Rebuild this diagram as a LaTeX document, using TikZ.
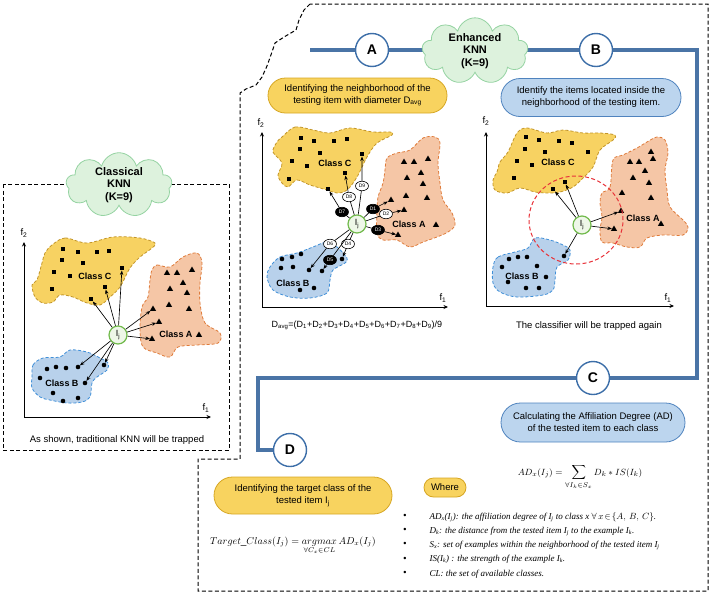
\documentclass[tikz,border=0pt]{standalone}
\usepackage{fontspec}
\setmainfont{Liberation Sans}
\newfontfamily\tnr{Liberation Serif}
\usetikzlibrary{shapes.symbols,shapes.geometric,shapes.misc,arrows.meta}
\definecolor{flowblue}{HTML}{4A74A6}
\definecolor{circblue}{HTML}{3C6EA8}
\definecolor{yfill}{HTML}{F8D35F}
\definecolor{ydraw}{HTML}{D6A623}
\definecolor{bfill}{HTML}{BCD5EE}
\definecolor{bdraw}{HTML}{4F83BE}
\definecolor{cloudfill}{HTML}{DDF2DD}
\definecolor{clouddraw}{HTML}{95D3A2}
\definecolor{cfill}{HTML}{F7D262}
\definecolor{cdraw}{HTML}{C2952A}
\definecolor{afill}{HTML}{F5C6A6}
\definecolor{adraw}{HTML}{DF7B3A}
\definecolor{bbfill}{HTML}{B8D1EB}
\definecolor{bbdraw}{HTML}{3F8FD8}
\definecolor{ijfill}{HTML}{EEF7E8}
\definecolor{ijdraw}{HTML}{72BA4D}
\definecolor{redc}{HTML}{E8333A}
\begin{document}
\begin{tikzpicture}[x=1pt,y=-1pt,
  frame/.style={draw=black,line width=1pt,dash pattern=on 4pt off 2.5pt},
  flow/.style={draw=flowblue,line width=4.5pt},
  letter/.style={circle,draw=circblue,line width=1.4pt,fill=white,minimum size=33pt,inner sep=0,font=\fontsize{14}{14}\selectfont\bfseries},
  ybox/.style={rounded rectangle,draw=ydraw,fill=yfill,line width=0.8pt,align=center,inner sep=0,font=\fontsize{9.5}{12}\selectfont},
  bbox/.style={rounded rectangle,draw=bdraw,fill=bfill,line width=0.8pt,align=center,inner sep=0,font=\fontsize{9.5}{12}\selectfont},
  cloudnode/.style={cloud,cloud puffs=9,cloud ignores aspect,draw=clouddraw,fill=cloudfill,line width=0.8pt,minimum width=106pt,minimum height=60pt,align=center,inner sep=0,font=\fontsize{11}{12.5}\selectfont\bfseries},
  cblob/.style={fill=cfill,draw=cdraw,line width=0.8pt,dash pattern=on 3pt off 2pt},
  ablob/.style={fill=afill,draw=adraw,line width=0.8pt,dash pattern=on 3pt off 2pt},
  bblob/.style={fill=bbfill,draw=bbdraw,line width=0.8pt,dash pattern=on 3pt off 2pt},
  sq/.style={rectangle,fill=black,minimum size=4.6pt,inner sep=0},
  tri/.style={regular polygon,regular polygon sides=3,fill=black,minimum size=7pt,inner sep=0},
  dot/.style={circle,fill=black,minimum size=4.6pt,inner sep=0},
  ij/.style={circle,draw=ijdraw,fill=ijfill,line width=1.2pt,minimum size=18pt,inner sep=0,font=\fontsize{9}{9}\selectfont},
  arr/.style={-{Stealth[length=4.5pt,width=3.5pt]},line width=0.65pt},
  axis/.style={-{Stealth[length=4.5pt,width=4pt]},line width=1pt},
  dw/.style={ellipse,draw=black,fill=white,line width=0.6pt,minimum width=13pt,minimum height=9.5pt,inner sep=0,font=\fontsize{5}{5}\selectfont},
  db/.style={dw,fill=black,text=white},
  lbl/.style={font=\fontsize{9}{9}\selectfont\bfseries},
  txt/.style={font=\fontsize{9.5}{11}\selectfont},
  ax/.style={font=\fontsize{9.5}{9.5}\selectfont},
  bul/.style={anchor=base west,font=\fontsize{9}{9}\selectfont\tnr\itshape}
]
\useasboundingbox (0,0) rectangle (713,595);

% ---------- frames ----------
\draw[frame] (3,184) rectangle (229,450);
\draw[frame] (310,4) -- (304,10) -- (299,20) -- (296,30) -- (284,37) -- (275,43) -- (272,52) -- (267,66) -- (262,77) -- (256,85) -- (246,89) -- (240,93) -- (240,459) -- (198,459) -- (198,591) -- (708,591) -- (708,4) -- cycle;

% ---------- blue flow ----------
\coordinate (fs) at (310,50);
\coordinate (k1) at (697,50);
\coordinate (k2) at (697,378);
\coordinate (k3) at (258,378);
\coordinate (k4) at (258,450);
\coordinate (dpos) at (290,450);
\draw[flow] (fs) -- (k1) -- (k2) -- (k3) -- (k4) -- (dpos);
\node[letter] (A) at (372,50) {A};
\node[letter] (B) at (596,50) {B};
\node[letter] (C) at (593,378) {C};
\node[letter] (D) at (dpos) {D};
\node[cloudnode] (enh) at (475,51) {Enhanced\\KNN\\(K=9)};
\node[cloudnode] (cls) at (119,185) {Classical\\KNN\\(K=9)};

% ---------- text boxes ----------
\node[ybox,minimum width=179pt,minimum height=35pt] (boxA) at (357.5,95.5) {Identifying the neighborhood of the\\testing item with diameter D\textsubscript{avg}};
\node[bbox,minimum width=180pt,minimum height=38pt] (boxB) at (591,97.5) {Identify the items located inside the\\neighborhood of the testing item.};
\node[bbox,minimum width=184pt,minimum height=39pt] (boxC) at (593,422.5) {Calculating the Affiliation Degree (AD)\\of the tested item to each class};
\node[ybox,minimum width=178pt,minimum height=37pt] (boxD) at (303,495.5) {Identifying the target class of the\\tested item I\textsubscript{j}};
\node[ybox,minimum width=42pt,minimum height=19pt] (where) at (445,487.5) {Where};

% ================= LEFT PANEL =================
\draw[cblob] plot[smooth cycle,tension=0.55] coordinates {(52,245) (65,238) (87,243) (113,237) (140,238) (155,243) (152,248) (140,257) (130,268) (120,287) (110,297) (100,305) (87,303) (73,297) (60,295) (53,302) (43,303) (35,297) (32,285) (37,280) (42,263) (45,253)};
\draw[ablob] plot[smooth cycle,tension=0.55] coordinates {(152,270) (157,265) (170,267) (183,257) (197,253) (202,263) (200,283) (200,303) (205,323) (220,333) (218,343) (197,345) (178,347) (170,357) (157,353) (143,347) (140,330) (142,307) (148,297) (150,280)};
\draw[bblob] plot[smooth cycle,tension=0.55] coordinates {(32,377) (33,365) (43,358) (60,357) (70,350) (87,352) (100,358) (108,363) (107,370) (97,377) (92,383) (90,397) (82,402) (67,403) (50,400) (40,397) (32,388)};
\foreach \p [count=\i] in {(63,249),(78,252),(97,252),(109,251),(62,260),(83,263),(54,272),(70,276),(52,289)} \node[sq] (lcs\i) at \p {};
\foreach \p [count=\i] in {(167,273),(177,273),(192,270),(183,283),(170,289),(187,293),(169,305),(189,309),(199,335)} \node[tri] (lat\i) at \p {};
\foreach \p [count=\i] in {(47,369),(56,367),(66,368),(40,378),(53,393),(63,401),(78,398)} \node[dot] (lbd\i) at \p {};
\node[sq] (LC1) at (122,268) {};
\node[sq] (LC2) at (105,287) {};
\node[sq] (LC3) at (91,299) {};
\node[tri] (LA1) at (153,309) {};
\node[tri] (LA2) at (159,322) {};
\node[tri] (LA3) at (152,339) {};
\node[dot] (LB1) at (78,367) {};
\node[dot] (LB2) at (85,383) {};
\node[dot] (LB3) at (104,365) {};
\node[lbl] (lclC) at (95,276) {Class C};
\node[lbl] (lclA) at (176,334) {Class A};
\node[lbl] (lclB) at (62,383) {Class B};
\node[ij] (IL) at (118,335) {I\textsubscript{j}};
\foreach \t in {LC1,LC2,LC3,LA1,LA2,LA3,LB1,LB2,LB3} \draw[arr] (IL) -- (\t);
\coordinate (lo) at (24,417);
\coordinate (ly) at (24,242);
\coordinate (lx) at (211,417);
\draw[axis] (lo) -- (ly);
\draw[axis] (lo) -- (lx);
\node[ax] (lf2) at (24,233) {f\textsubscript{2}};
\node[ax] (lf1) at (206,408) {f\textsubscript{1}};
\node[txt] (capL) at (117,440) {As shown, traditional KNN will be trapped};

% ================= PANEL A =================
\draw[cblob] plot[smooth cycle,tension=0.55] coordinates {(282,137) (295,127) (313,130) (330,133) (350,128) (373,132) (390,132) (392,135) (377,143) (367,157) (357,177) (347,190) (337,193) (327,190) (310,185) (297,180) (288,187) (282,183) (278,175) (282,163) (273,152) (277,142)};
\draw[ablob] plot[smooth cycle,tension=0.55] coordinates {(387,158) (397,153) (410,150) (423,138) (435,137) (440,143) (438,163) (440,183) (443,200) (452,213) (455,225) (448,232) (437,237) (423,242) (410,247) (397,240) (383,240) (377,233) (377,210) (378,197) (383,183) (385,170)};
\draw[bblob] plot[smooth cycle,tension=0.55] coordinates {(270,267) (280,257) (297,253) (313,247) (327,242) (337,247) (347,258) (345,263) (333,270) (330,280) (327,293) (310,298) (290,297) (273,290) (267,277)};
\foreach \p [count=\i] in {(301,138),(314,141),(334,141),(347,139),(300,149),(320,153),(292,161),(307,166),(289,179)} \node[sq] (acs\i) at \p {};
\foreach \p [count=\i] in {(404,162),(414,162),(428,159),(421,173),(407,178),(423,184),(406,196),(427,198),(436,225)} \node[tri] (aat\i) at \p {};
\foreach \p [count=\i] in {(282,259),(292,257),(301,254),(293,267),(281,268),(300,290),(314,288)} \node[dot] (abd\i) at \p {};
\node[sq] (T9) at (362,154) {};
\node[sq] (T8) at (345,173) {};
\node[sq] (T7) at (328,189) {};
\node[tri] (T1) at (391,200) {};
\node[tri] (T2) at (404,210) {};
\node[tri] (T3) at (398,235) {};
\node[dot] (T4) at (342,259) {};
\node[dot] (T5) at (322,271) {};
\node[dot] (T6) at (309,270) {};
\node[lbl] (aclC) at (335,163) {Class C};
\node[lbl] (aclA) at (409,224) {Class A};
\node[lbl] (aclB) at (293,283) {Class B};
\node[ij] (IA) at (357,224) {I\textsubscript{j}};
\node[db] (d1) at (373,209) {D1};
\node[dw] (d2) at (386,214) {D2};
\node[db] (d3) at (378,230) {D3};
\node[dw] (d4) at (348,244) {D4};
\node[db] (d5) at (330,260) {D5};
\node[dw] (d6) at (330,244) {D6};
\node[db] (d7) at (342,212) {D7};
\node[dw] (d8) at (349,197) {D8};
\node[dw] (d9) at (362,186) {D9};
\foreach \k in {1,...,9} \draw[arr] (IA) -- (d\k) -- (T\k);
\coordinate (ao) at (262,307);
\coordinate (ay) at (262,132);
\coordinate (axx) at (448,307);
\draw[axis] (ao) -- (ay);
\draw[axis] (ao) -- (axx);
\node[ax] (af2) at (261,123) {f\textsubscript{2}};
\node[ax] (af1) at (443,298) {f\textsubscript{1}};
\node[font=\fontsize{9}{9}\selectfont] (capA) at (357,325) {D\textsubscript{avg}=(D\textsubscript{1}+D\textsubscript{2}+D\textsubscript{3}+D\textsubscript{4}+D\textsubscript{5}+D\textsubscript{6}+D\textsubscript{7}+D\textsubscript{8}+D\textsubscript{9})/9};

% ================= PANEL B =================
\draw[cblob] plot[smooth cycle,tension=0.55] coordinates {(497,172) (500,162) (508,152) (517,133) (527,128) (547,133) (563,130) (583,133) (600,133) (615,135) (613,140) (600,150) (593,167) (583,178) (573,187) (560,192) (548,193) (535,192) (520,188) (507,193) (495,190) (493,180)};
\draw[ablob] plot[smooth cycle,tension=0.55] coordinates {(602,193) (610,187) (613,160) (623,155) (637,148) (647,142) (657,137) (665,140) (668,153) (665,170) (667,190) (670,207) (683,220) (688,227) (683,235) (663,235) (647,238) (640,247) (627,247) (613,243) (602,242) (600,230) (602,217) (600,203)};
\draw[bblob] plot[smooth cycle,tension=0.55] coordinates {(493,267) (498,257) (515,252) (528,248) (535,238) (550,240) (563,245) (570,250) (568,260) (557,267) (555,280) (553,290) (543,295) (517,297) (500,292) (493,283)};
\foreach \p [count=\i] in {(526,137),(539,140),(559,141),(572,143),(525,149),(545,152),(588,152),(517,161),(532,165),(514,178)} \node[sq] (bcs\i) at \p {};
\foreach \p [count=\i] in {(630,162),(639,162),(651,152),(653,159),(645,171),(633,178),(649,183),(622,193),(651,198),(661,224)} \node[tri] (bat\i) at \p {};
\foreach \p [count=\i] in {(509,259),(518,257),(527,257),(502,267),(537,266),(546,277),(508,282),(526,288),(539,288)} \node[dot] (bbd\i) at \p {};
\node[sq] (BC1) at (565,182) {};
\node[sq] (BC2) at (553,189) {};
\node[tri] (BA1) at (621,211) {};
\node[tri] (BA2) at (614,229) {};
\node[dot] (BB1) at (564,256) {};
\node[lbl] (bclC) at (558,162) {Class C};
\node[lbl] (bclA) at (643,218) {Class A};
\node[lbl] (bclB) at (522,276) {Class B};
\node[draw=redc,line width=1pt,dash pattern=on 4pt off 2.5pt,ellipse,minimum width=94pt,minimum height=88pt,inner sep=0] (nb) at (576,220) {};
\node[ij] (IB) at (582,225) {I\textsubscript{j}};
\foreach \t in {BC1,BC2,BA1,BA2,BB1} \draw[arr] (IB) -- (\t);
\coordinate (bo) at (486,306);
\coordinate (by) at (486,132);
\coordinate (bx) at (674,306);
\draw[axis] (bo) -- (by);
\draw[axis] (bo) -- (bx);
\node[ax] (bf2) at (486,121) {f\textsubscript{2}};
\node[ax] (bf1) at (668,298) {f\textsubscript{1}};
\node[txt] (capB) at (589,326) {The classifier will be trapped again};

% ================= FORMULAS =================
\node[anchor=base,font=\fontsize{9.5}{11}\selectfont] (adf) at (580,475) {$AD_x(I_j) = \displaystyle\sum_{\forall I_k\in S_x} D_k * IS(I_k)$};
\node[anchor=base,font=\fontsize{10}{11}\selectfont] (tcf) at (293,544) {$Target\_Class(I_j) = \mathop{argmax}\limits_{\forall C_x\in CL} AD_x(I_j)$};
\foreach \yy [count=\i] in {516,530.3,544.6,558.9,573.2} \node[font=\fontsize{9}{9}\selectfont] (bu\i) at (405,\yy) {\textbullet};
\node[bul] (l1) at (426,519) {AD\textsubscript{x}(I\textsubscript{j}): the affiliation degree of I\textsubscript{j} to class x $\forall\, x\!\in\!\{A,\,B,\,C\}$.};
\node[bul] (l2) at (426,533.3) {D\textsubscript{k}: the distance from the tested item I\textsubscript{j} to the example I\textsubscript{k}.};
\node[bul] (l3) at (426,547.6) {S\textsubscript{x}: set of examples within the neighborhood of the tested item I\textsubscript{j}};
\node[bul] (l4) at (426,561.9) {IS(I\textsubscript{k}) : the strength of the example I\textsubscript{k}.};
\node[bul] (l5) at (426,576.2) {CL: the set of available classes.};
\end{tikzpicture}
\end{document}
